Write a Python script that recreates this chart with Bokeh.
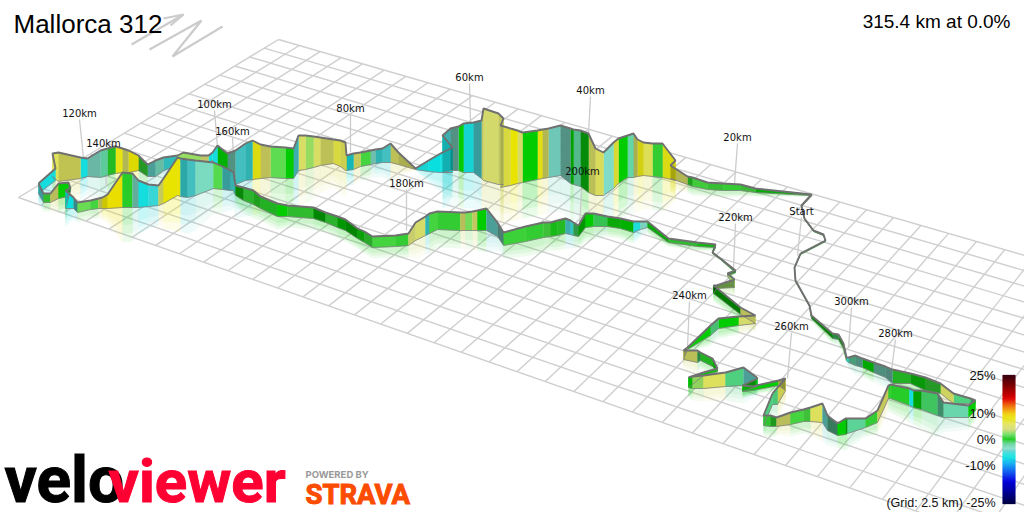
import numpy as np
from bokeh.plotting import figure
from bokeh.core.properties import value
from bokeh.models import Range1d, LinearColorMapper, ColumnDataSource
from bokeh.embed import file_html
from bokeh.resources import INLINE

title_text = "Mallorca 312"
summary_text = "315.4 km at 0.0%"

# Route, in four stretches; grade is the gradient (%) of the stripe leaving each point
far_x = [800,825,823,813,804,801,811,755,740,723,707,692,687,670,675,662,652,643,637,633,627,618,613,603,595,588,580,573,570,560,548,542,537,522,517,510,500,503,498,483,481,473,463,458,450,442,452,440,428,415,398,390,382,375,370,360,353,346,345,340,333,320,313,305,298,293,285,270,260,252,245,235,227,217,212,208,200,183,177,163,155,147,138,128,122,115,107,100,87,80,58,52,55,38]
far_top = [253,240,234,230,218,205,194,188,184,183,182,177,176,165,160,143,143,142,139,133,135,138,142,152,148,133,130,129,128,125,128,129,130,132,130,128,125,118,113,108,120,122,123,126,128,135,147,153,160,168,152,143,148,149,150,152,153,155,142,140,139,137,136,135,135,148,147,146,144,140,143,150,153,145,152,155,155,152,155,157,160,164,155,150,148,146,148,150,158,157,152,153,168,183]
far_bot = [254,241,235,231,219,206,195,192,190,190,189,186,184,178,180,177,176,175,176,177,177,183,188,195,195,192,186,184,183,175,177,178,179,182,183,185,187,184,184,180,178,172,172,170,170,172,172,172,171,169,164,162,162,163,164,166,169,170,170,166,163,165,167,169,170,178,178,177,178,179,180,184,170,165,160,162,162,158,165,170,176,176,170,172,172,173,175,177,176,178,181,176,180,193]
far_grade = [.5,.5,.5,.5,.5,.5,.5,1.5,1,1.2,1.5,.8,5,8.5,8,1,6,8,5,-2.2,.3,7,-3.5,5.5,4.8,0,-2,.3,-3.5,-3.7,5,8,.3,4.5,8.5,6.5,4.5,4.5,4.3,4.3,-4.5,-6,.3,-3.5,-4.5,-5.5,-6,-6.5,-6,5,5,-4.5,-5,-3.5,1.5,5,-5.5,7.5,6,6.5,5.2,5,3,5,-4.5,.3,2,5,8,-5,-4.5,-3.5,.3,-6,-6,4,3,3,-5,-3,-4,1,8.5,5,8,.8,-2,-3.5,-6,5.5,6,6,-6,-6]
far_shade = [.6,.6,.6,.6,.6,.6,.8,.85,1,.9,.95,.75,.8,.9,.95,1,.98,.9,.75,1,1,.95,1,.98,.85,.62,.85,.75,.6,.9,.8,.98,1,1,1,.95,.9,.9,1,.9,.7,.95,1,.6,.8,.95,1,1,.95,.75,.85,.9,.8,.85,1,.9,.8,.9,.9,.95,.85,1,1,1,.8,1,1,.85,.95,.8,.9,.6,.85,1,1,.9,1,1,.85,.85,.7,.7,.95,.8,1,.9,.95,.8,1,.85,1,1,1,1]

near_x = [38,43,50,58,68,70,65,73,77,90,98,102,107,122,132,138,148,158,163,177,180,187,195,213,222,230,233,235,243,253,260,277,287,313,325,337,345,357,364,372,395,408,415,425,429,437,460,465,472,477,486,497,503,525,543,550,557,565,570,573,578,585,593,607,620,633,640,647,668,697,715,712,720,735,727,734,716,713,740,755,738,718,710,687,683,697,700,712,717,703,688,692,703,725,743,755,757,742,752,778,785,777,772]
near_top = [183,193,193,183,182,188,190,197,202,200,198,197,194,172,173,180,184,185,178,157,158,159,160,162,166,170,172,185,187,190,196,203,205,207,212,216,219,228,231,236,235,233,222,216,213,211,212,212,211,210,208,222,232,226,222,222,220,218,220,222,225,213,213,216,218,221,221,221,238,242,244,252,258,270,273,279,285,285,307,315,316,318,325,347,350,350,352,358,368,372,377,376,375,372,367,376,378,385,386,380,378,387,393]
near_bot = [193,202,202,198,196,190,208,208,212,209,208,208,208,207,207,207,206,205,203,195,196,197,195,188,189,190,190,195,200,204,208,216,216,218,222,227,230,238,242,247,246,245,240,235,233,229,230,230,230,230,230,236,245,241,237,236,235,233,234,235,236,227,226,226,228,232,229,227,242,246,247,253,259,272,275,287,288,293,314,323,325,328,335,349,359,362,360,366,371,375,387,388,388,386,385,386,386,391,390,385,390,404,404]
near_grade = [-4.5,1,4.5,.3,.5,.5,-6.5,-4.5,2.2,1.5,5,8.5,8.8,.8,-3.5,-6,-5,5,8.5,8.5,-5,-4.5,-3.2,1.8,-4.5,-4.8,-5,.5,1,.8,.8,.3,1,.3,1,.3,.3,.5,1,1.5,1,4,4.5,-5,1.5,1,4.5,2.5,4.5,.3,-4,-3.5,1.2,1,1.5,.6,.8,-4.5,-5,-1,.3,.3,-.8,.5,.3,-5.5,-3.5,.5,1,.5,.3,.3,.3,.3,3,3,.3,.3,4.5,4.5,.3,-1.5,.3,4.5,4.8,-1,.8,.3,.3,.3,.3,3,5.5,-1.5,-4,-6.5,.5,.5,.3,6,6,-1.5,-1.5]
near_shade = [.7,.9,.85,1,.8,.8,1,.6,1,1,.8,.85,1,1,.75,1,1,.9,1,1,.75,.9,1,1,.7,.8,.8,.6,.85,.75,.85,1,.9,.6,.85,.7,.6,.75,.8,1,1,.95,1,.8,1,1,.85,1,.9,1,.7,.5,1,1,.9,.9,.9,.8,.9,.7,.7,1,.95,.8,.85,1,.95,.8,.9,.9,.6,.6,.6,.6,1,.6,.55,.55,.85,1,1,.9,1,.75,.85,.6,.85,.8,1,1,.9,.95,1,1,.7,1,.9,.9,1,.65,.9,.95,1]

east_x = [772,763,770,776,790,803,810,822,827,837,845,847,865,877,888,890,909,913,921,937,943,968,975]
east_top = [393,415,415,417,412,409,407,403,415,423,418,418,418,410,385,384,388,390,390,393,402,405,400]
east_bot = [404,425,426,426,424,421,421,422,430,435,434,433,427,422,398,398,405,407,409,415,417,417,410]
east_grade = [-1.5,1,.8,4.5,1.5,1.5,5.5,-4,-2,.3,.3,-1.8,1,5,.8,.8,-6,.3,-1,-2,-2.5,.3,.3]
east_shade = [1,.95,.7,.85,1,.9,1,.7,.5,1,.7,1,1,.9,1,1,1,.75,.95,.6,1,1,1]

last_x = [975,970,953,940,925,910,892,885,873,862,855,848,846,843,838,832,811,809,795,794,800]
last_top = [400,398,393,383,377,373,369,366,362,358,355,357,357,343,334,333,315,305,280,267,253]
last_bot = [403,403,403,393,390,383,383,377,372,367,365,362,360,348,339,338,318,306,281,268,254]
last_grade = [-2,-1.5,5,1,.5,.8,-3.5,-3,.3,-3,-2,-6,.5,.5,-1,.3,.3,.5,.5,.5,.5]
last_shade = [.6,1,.95,.7,.7,.85,.55,.6,.8,.6,.7,1,.6,.6,.6,.6,.6,.6,.6,.6,.6]

# Distance markers
marker_names = ["Start","20km","40km","60km","80km","100km","120km","140km","160km","180km","200km","220km","240km","260km","280km","300km"]
marker_x = [801,737,590,469,350,214,79,103,232,406,582,735,689,791,895,851]
marker_y = [211,137,90,77,108,104,113,143,131,183,171,217,295,326,333,301]
marker_end_x = [797,734,588,470,350,217,83,106,234,406,579,733,687,787,891,848]
marker_end_y = [255,183,133,122,152,147,158,185,177,230,225,268,347,378,370,347]

# Colour scale
scale_grades = [-25,-20,-16,-12,-9,-7,-5.5,-4.5,-3.5,-2,-1,.3,1,2,3,4,6,8.5,10,13,16,21,25]
scale_colors = ["#000040","#0000a0","#0000e0","#0060f0","#00b0f0","#00e0e0","#20dcdc","#50d0d0","#80dcc8","#60d4a0","#40cc60","#00cc00","#30cc30","#5adc50","#94dc60","#d0d870","#e0e258","#e8e400","#f0d000","#f07000","#e00000","#800000","#3a0010"]
scale_tick_labels = ["25%","10%","0%","-10%"]
scale_tick_values = [25,10,0,-10]
grid_note = "(Grid: 2.5 km) -25%"

PX_W, PX_H = 1024, 512
p = figure(width=PX_W, height=PX_H, x_range=Range1d(0, 1024), y_range=Range1d(512, 0),
           output_backend="svg", toolbar_location=None, min_border=0,
           x_axis_location=None, y_axis_location=None)
p.grid.visible = False
p.outline_line_color = None
p.background_fill_color = "white"

def hexrgb(c):
    return [int(c[i:i+2], 16) for i in (1, 3, 5)]
gg = np.linspace(-25, 25, 256)
rgb = np.array([hexrgb(c) for c in scale_colors], dtype=float)
palette = ["#%02x%02x%02x" % tuple(int(round(np.interp(g, scale_grades, rgb[:, k]))) for k in range(3)) for g in gg]
mapper = LinearColorMapper(palette=palette, low=-25, high=25)

# perspective ground grid
src_uv = np.array([[0, 0], [0, 16], [29, 0], [29, 16]], float)
dst_xy = np.array([[278, 39], [18, 197], [976, 241], [785, 465]], float)
A, b = [], []
for (u, v), (x, y) in zip(src_uv, dst_xy):
    A.append([u, v, 1, 0, 0, 0, -u*x, -v*x]); b.append(x)
    A.append([0, 0, 0, u, v, 1, -u*y, -v*y]); b.append(y)
H = np.append(np.linalg.solve(np.array(A), np.array(b)), 1).reshape(3, 3)
def proj(u, v):
    w = H[2, 0]*u + H[2, 1]*v + H[2, 2]
    return (H[0, 0]*u + H[0, 1]*v + H[0, 2])/w, (H[1, 0]*u + H[1, 1]*v + H[1, 2])/w
grid_xs, grid_ys = [], []
U_MAX, V_MAX = 40, 16
for i in range(U_MAX + 1):
    a, c = proj(i, 0), proj(i, V_MAX)
    grid_xs.append([a[0], c[0]]); grid_ys.append([a[1], c[1]])
for j in range(V_MAX + 1):
    a, c = proj(0, j), proj(U_MAX, j)
    grid_xs.append([a[0], c[0]]); grid_ys.append([a[1], c[1]])
p.multi_line(grid_xs, grid_ys, line_color="#cfcfcf", line_width=1.4)

# north arrow + N
p.multi_line([[131,183],[163,183,170],[149,201,172,222]], [[44,14],[18,14,25],[49,20,56,26]],
             line_color="#cccccc", line_width=2.2)

sections = [(far_x, far_top, far_bot, far_grade, far_shade),
            (last_x, last_top, last_bot, last_grade, last_shade),
            (near_x, near_top, near_bot, near_grade, near_shade),
            (east_x, east_top, east_bot, east_grade, east_shade)]
for s in sections:
    assert len({len(c) for c in s}) == 1, [len(c) for c in s]

def seg_source(x, y1, y2, grade, shade):
    xs, ys, g, al = [], [], [], []
    for i in range(len(x) - 1):
        xs.append([x[i], x[i+1], x[i+1], x[i]])
        ys.append([y1[i], y1[i+1], y2[i+1], y2[i]])
        g.append(grade[i]); al.append((1 - shade[i])*.85)
    return ColumnDataSource(dict(xs=xs, ys=ys, g=g, al=al))

# mirrored fade under the walls
for k in (1.0, .75, .5):
    for x, top, bot, grade, shade in sections:
        t, b_ = np.array(top, float), np.array(bot, float)
        refl = b_ + k*np.minimum(b_ - t, 36)
        p.patches("xs", "ys", source=seg_source(x, b_, refl, grade, shade),
                  fill_color={"field": "g", "transform": mapper}, fill_alpha=.085, line_color=None)

# leader lines (behind the walls)
for i in range(len(marker_names)):
    p.line([marker_x[i], marker_end_x[i]], [marker_y[i] + 6, marker_end_y[i]], line_color="#cccccc", line_width=1.3)

for x, top, bot, grade, shade in sections:
    src = seg_source(x, top, bot, grade, shade)
    p.patches("xs", "ys", source=src, fill_color={"field": "g", "transform": mapper},
              line_color={"field": "g", "transform": mapper}, line_width=.4)
    p.patches("xs", "ys", source=src, fill_color="black", fill_alpha="al", line_color=None)
    p.line(x, bot, line_color="#808080", line_width=1, line_alpha=.8)
    p.line(x, top, line_color="#707070", line_width=1.9)

# colour bar on its own grade axis: 25% at pixel 375, -25% at pixel 503
p.extra_y_ranges = {"grade": Range1d((439 - 512)/2.56, (439 - 0)/2.56)}
bar = np.linspace(-25, 25, 128)
p.quad(left=1002, right=1015, bottom=bar - .25, top=bar + .25, y_range_name="grade",
       fill_color=[palette[int(round((g+25)/50*255))] for g in bar], line_color=None)
p.text(x=[995]*4, y=scale_tick_values, text=scale_tick_labels, y_range_name="grade",
       text_font=value("Liberation Sans"), text_font_size="13px", text_align="right", text_baseline="middle", text_color="#111111")
p.text(x=[995], y=[-24.9], text=[grid_note], y_range_name="grade",
       text_font=value("Liberation Sans"), text_font_size="12.5px", text_align="right", text_baseline="middle", text_color="#111111")

p.text(x=marker_x, y=marker_y, text=marker_names, text_font=value("DejaVu Sans"), text_font_size="10px",
       text_align="center", text_baseline="middle", text_color="#111111")

p.text(x=[13], y=[23], text=[title_text], text_font=value("Liberation Sans"), text_font_size="26px",
       text_baseline="alphabetic", text_color="black")
p.text(x=[1010], y=[20.5], text=[summary_text], text_font=value("Liberation Sans"), text_font_size="19px",
       text_align="right", text_baseline="alphabetic", text_color="black")

# logos
p.text(x=[4], y=[479.5], text=["velo"], text_font=value("Roboto"), text_font_style="bold", text_font_size="64px",
       text_baseline="alphabetic", text_color="black", text_outline_color="black")
p.text(x=[108], y=[481], text=["viewer"], text_font=value("Roboto"), text_font_style="bold", text_font_size="60px",
       text_baseline="alphabetic", text_color="#ff0033", text_outline_color="#ff0033")
p.text(x=[305], y=[473.5], text=["POWERED BY"], text_font=value("Inter"), text_font_style="bold", text_font_size="9.5px",
       text_baseline="alphabetic", text_color="#999999")
p.text(x=[305], y=[493.5], text=["STRAVA"], text_font=value("Roboto"), text_font_style="bold", text_font_size="27.5px",
       text_baseline="alphabetic", text_color="#fc4c02", text_outline_color="#fc4c02")

open("out.html", "w").write(file_html(p, INLINE))
